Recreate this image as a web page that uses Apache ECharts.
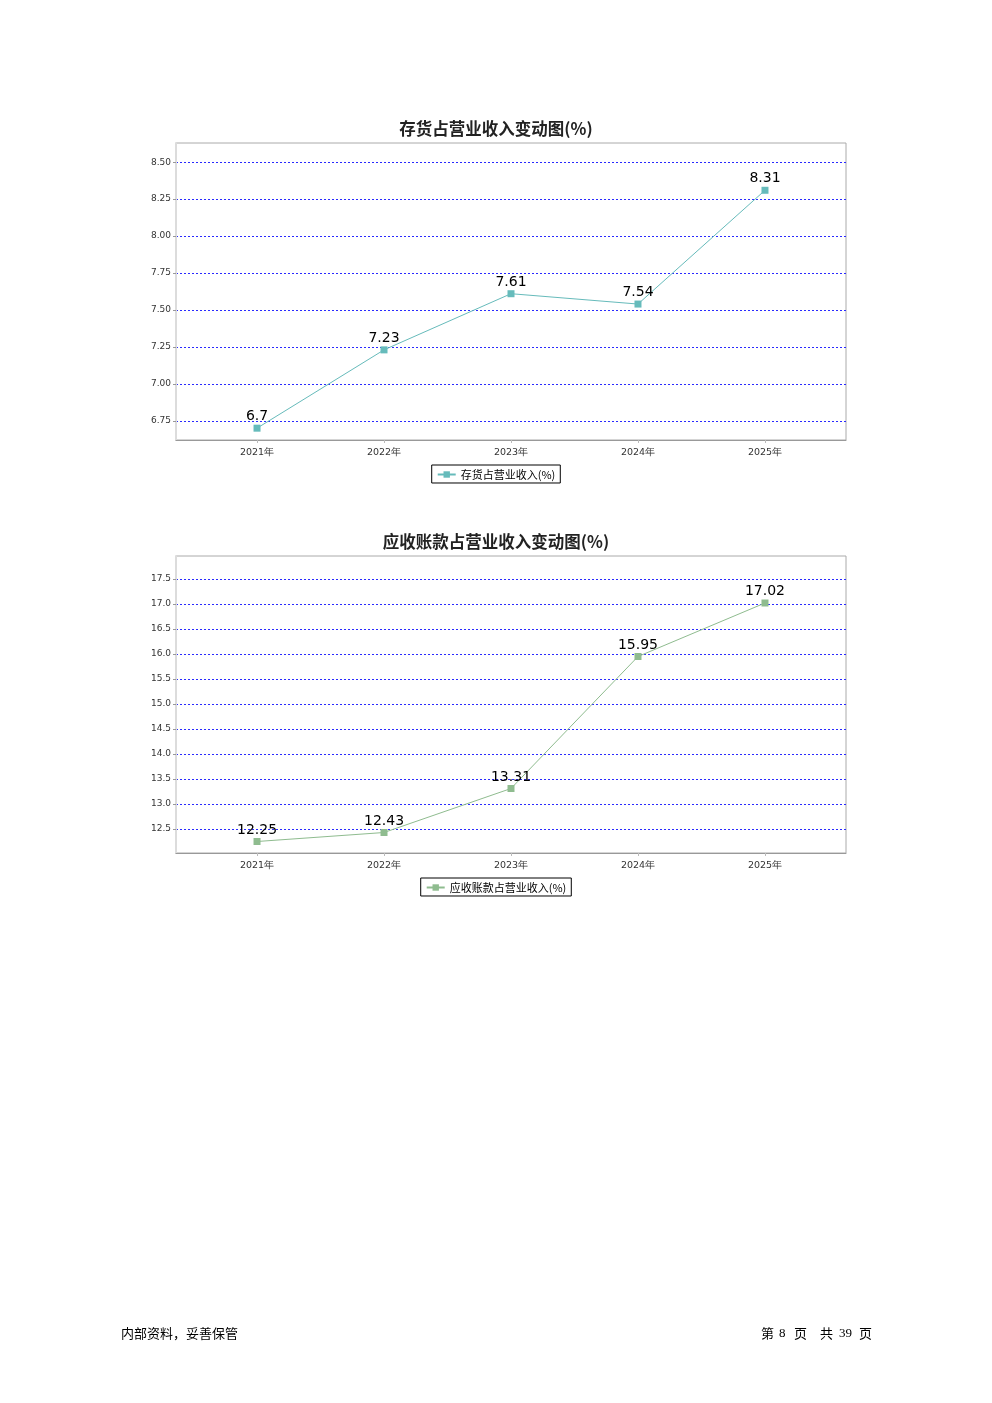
<!DOCTYPE html>
<html><head><meta charset="utf-8">
<script src="https://cdn.jsdelivr.net/npm/echarts@6/dist/echarts.min.js"></script>
<style>
html,body{margin:0;padding:0;background:#fff;}
#c{position:absolute;left:0;top:0;width:992px;height:1403px;}
.ft{position:absolute;top:1324px;font-size:13px;line-height:18px;color:#000;font-family:"Noto Sans CJK SC",sans-serif;white-space:nowrap;}
.num{font-family:"Liberation Serif",serif;}
</style></head>
<body>
<div id="c"></div>
<div class="ft" style="left:121px;">内部资料，妥善保管</div>
<div class="ft" style="left:761px;">第</div>
<div class="ft num" style="left:779px;">8</div>
<div class="ft" style="left:794px;">页</div>
<div class="ft" style="left:820px;">共</div>
<div class="ft num" style="left:839px;">39</div>
<div class="ft" style="left:859px;">页</div>
<script>
const categories = ['2021年','2022年','2023年','2024年','2025年'];
const inventoryName = '存货占营业收入(%)';
const inventoryValues = [6.7, 7.23, 7.61, 7.54, 8.31];
const inventoryTicks = [6.75, 7.00, 7.25, 7.50, 7.75, 8.00, 8.25, 8.50];
const receivableName = '应收账款占营业收入(%)';
const receivableValues = [12.25, 12.43, 13.31, 15.95, 17.02];
const receivableTicks = [12.5, 13.0, 13.5, 14.0, 14.5, 15.0, 15.5, 16.0, 16.5, 17.0, 17.5];
const titles = ['存货占营业收入变动图(%)', '应收账款占营业收入变动图(%)'];

const catIdx = categories.map((c,i)=>i);
function pts(vals){ return vals.map((v,i)=>[i,v]); }

const chart = echarts.init(document.getElementById('c'), null, {renderer:'canvas'});
const grids = [
  {left:176, top:143, width:670, height:297},
  {left:176, top:556, width:670, height:297}
];
function xAxis(gi){
  return {gridIndex:gi, type:'value', min:-0.638, max:4.638,
    axisLine:{show:true, onZero:false, lineStyle:{color:'#999', width:1}},
    axisTick:{show:true, customValues:catIdx, length:3, lineStyle:{color:'#bbb'}},
    splitLine:{show:false},
    axisLabel:{customValues:catIdx, formatter:v=>categories[Math.round(v)]||'', fontSize:9.5, color:'#333', margin:8, fontFamily:'DejaVu Sans'}
  };
}
function yAxis(gi, mn, mx, ticks, dec){
  return {gridIndex:gi, type:'value', min:mn, max:mx,
    axisLine:{show:true, onZero:false, lineStyle:{color:'#dcdcdc', width:2}},
    axisTick:{show:true, customValues:ticks, length:3, lineStyle:{color:'#999'}},
    axisLabel:{customValues:ticks, formatter:v=>v.toFixed(dec), fontSize:9, color:'#333', margin:5, fontFamily:'DejaVu Sans'},
    splitLine:{show:true, lineStyle:{color:'#2a2aff', type:[2,2], width:1}}
  };
}
function series(name, vals, color, gi){
  return {name:name, type:'line', xAxisIndex:gi, yAxisIndex:gi, data:pts(vals),
    symbol:'rect', symbolSize:7, itemStyle:{color:color},
    lineStyle:{color:color, width:1},
    label:{show:true, position:'top', distance:1, fontSize:14, color:'#000', fontFamily:'DejaVu Sans', formatter:p=>String(p.value[1])},
    animation:false
  };
}
const legendBase = {left:'center', borderColor:'#000', borderWidth:1, padding:[4,5,3,5], itemWidth:18, itemHeight:8, itemGap:4,
  textStyle:{fontSize:11, color:'#000', fontFamily:'Noto Sans CJK SC'}};
chart.setOption({
  animation:false,
  title:[
    {text:titles[0], left:'center', top:115, textStyle:{fontSize:16.5, fontWeight:'bold', color:'#222', fontFamily:'Noto Sans CJK SC'}},
    {text:titles[1], left:'center', top:528, textStyle:{fontSize:16.5, fontWeight:'bold', color:'#222', fontFamily:'Noto Sans CJK SC'}}
  ],
  grid:grids.map(g=>Object.assign({show:true, borderColor:'#aaa', borderWidth:1, backgroundColor:'#fff'}, g)),
  xAxis:[xAxis(0), xAxis(1)],
  yAxis:[yAxis(0, 6.62, 8.63, inventoryTicks, 2), yAxis(1, 12.02, 17.96, receivableTicks, 1)],
  legend:[
    Object.assign({}, legendBase, {data:[inventoryName], top:465}),
    Object.assign({}, legendBase, {data:[receivableName], top:878})
  ],
  series:[
    series(inventoryName, inventoryValues, '#66bbbb', 0),
    series(receivableName, receivableValues, '#8fbc8f', 1)
  ]
});
</script>
</body></html>
